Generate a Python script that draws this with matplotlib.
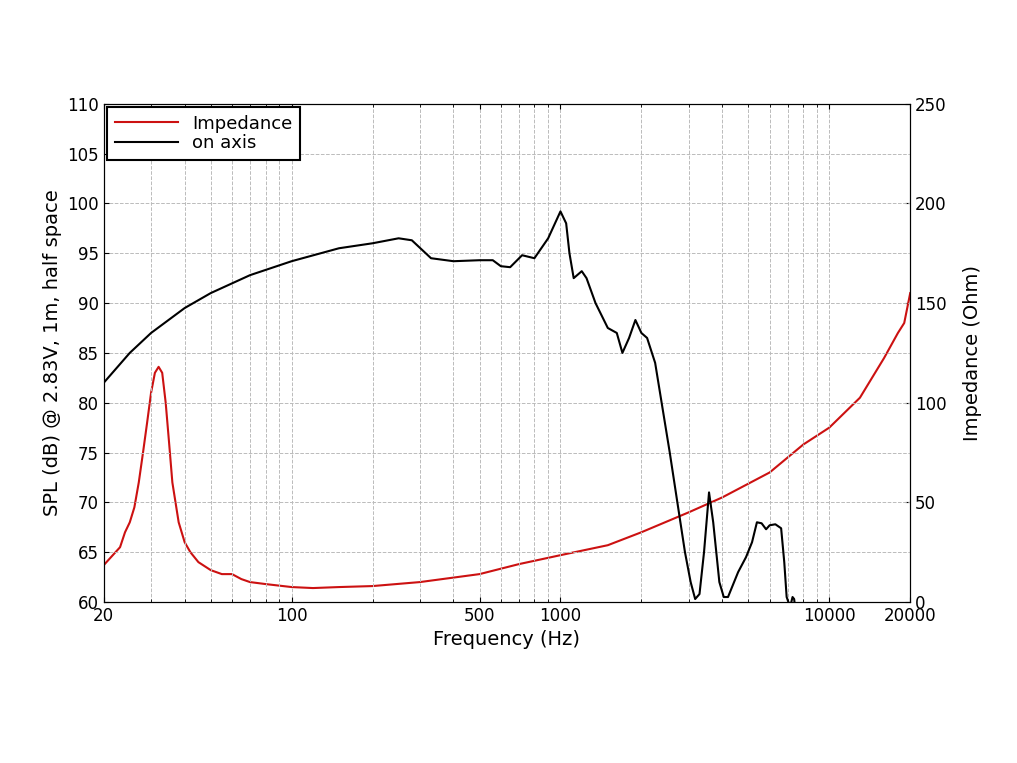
import matplotlib
matplotlib.use("Agg")
import matplotlib.pyplot as plt
import numpy as np
from matplotlib.ticker import FixedLocator, NullFormatter

spl_f = [20,25,30,40,50,70,100,150,200,250,280,330,400,500,560,600,650,720,800,900,1000,1050,1080,1120,1200,1250,1350,1500,1620,1700,1800,1900,2000,2100,2250,2550,2905,3050,3170,3290,3420,3570,3700,3900,4050,4200,4580,4900,5160,5380,5600,5820,6000,6300,6620,6800,6940,7150,7300,7400,7500]
spl_db = [82,85,87,89.5,91,92.8,94.2,95.5,96,96.5,96.3,94.5,94.2,94.3,94.3,93.7,93.6,94.8,94.5,96.5,99.2,98,95,92.5,93.2,92.5,90,87.5,87,85,86.5,88.3,87,86.5,84,75,65,62,60.3,60.8,65,71,68,62,60.5,60.5,63,64.5,66,68,67.9,67.3,67.7,67.8,67.4,64,60.5,59.5,60.5,60.3,59]

imp_f = [20,23,24,25,26,27,28,29,30,31,32,33,34,35,36,38,40,42,45,50,55,60,65,70,80,100,120,150,200,300,500,700,1000,1500,2000,3000,4000,6000,8000,10000,13000,16000,18000,19000,20000]
imp_ohm = [18.5,27.5,35,40,47.5,60,75,90,105,115,118,115,100,80,60,40,30,25,20,16,14,14,11.5,10,9,7.5,7,7.5,8,10,14,19,23.5,28.5,35,45,52.5,65,79,87.5,102.5,122.5,135,140,155]

x_ticks = [20,100,500,1000,10000,20000]
x_labels = ["20","100","500","1000","10000","20000"]

fig = plt.figure(figsize=(10.17,7.63), dpi=100)
ax = fig.add_axes([0.102,0.211,0.793,0.653])
ax2 = ax.twinx()

ax.set_xscale("log")
ax.set_xlim(20,20000)
ax.set_ylim(60,110)
ax.set_yticks(np.arange(60,111,5))
ax2.set_ylim(0,250)
ax2.set_yticks(np.arange(0,251,50))
ax.xaxis.set_major_locator(FixedLocator(x_ticks))
ax.set_xticklabels(x_labels)
minors = [m*10**e for e in range(1,5) for m in range(1,10) if 20 <= m*10**e <= 20000 and m*10**e not in x_ticks]
ax.xaxis.set_minor_locator(FixedLocator(minors))
ax.xaxis.set_minor_formatter(NullFormatter())
ax.grid(True, which="both", axis="x", color="#bbbbbb", ls="--", lw=0.7)
ax.grid(True, which="major", axis="y", color="#bbbbbb", ls="--", lw=0.7)
for a in (ax, ax2):
    a.tick_params(which="both", direction="in", labelsize=12)
    a.tick_params(which="both", top=True)

l1, = ax2.plot(imp_f, imp_ohm, color="#cc1111", lw=1.5, label="Impedance")
l2, = ax.plot(spl_f, spl_db, color="black", lw=1.5, label="on axis")
ax.set_zorder(ax2.get_zorder()+1); ax.patch.set_visible(False)

ax.set_xlabel("Frequency (Hz)", fontsize=14)
ax.set_ylabel("SPL (dB) @ 2.83V, 1m, half space", fontsize=14)
ax2.set_ylabel("Impedance (Ohm)", fontsize=14, labelpad=12)
leg = ax.legend([l1,l2], ["Impedance","on axis"], loc="upper left", fontsize=13,
                fancybox=False, edgecolor="black", framealpha=1, borderaxespad=0.2,
                handlelength=3.5, labelspacing=0.1)
leg.get_frame().set_linewidth(1.5)
fig.savefig("out.png", dpi=100)
